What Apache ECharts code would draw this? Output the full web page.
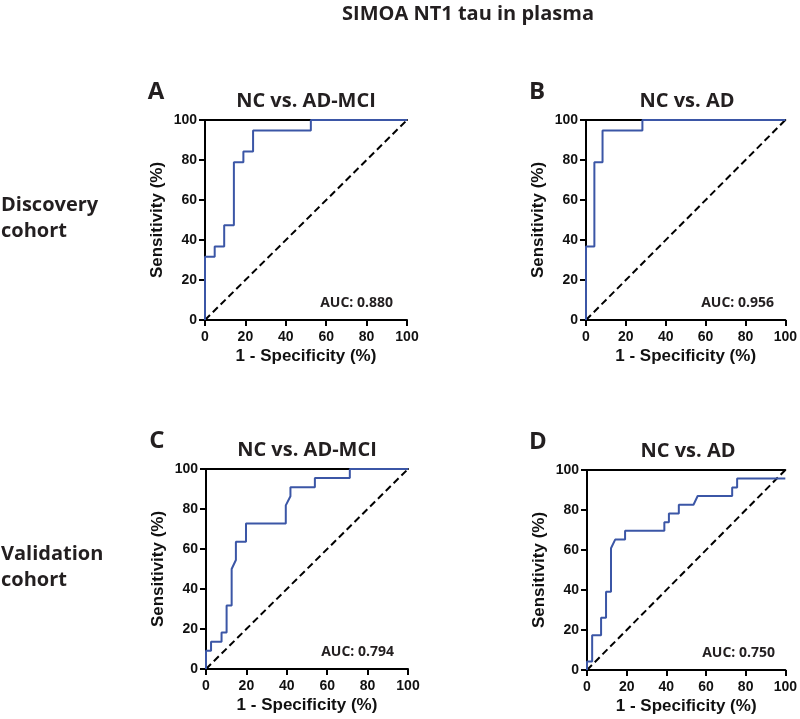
<!DOCTYPE html>
<html>
<head>
<meta charset="utf-8">
<script src="https://cdn.jsdelivr.net/npm/echarts@6/dist/echarts.min.js"></script>
<style>
  html, body { margin: 0; padding: 0; background: #fff; }
  #myCharts { width: 800px; height: 719px; }
</style>
</head>
<body>
<div id="myCharts"></div>
<script>
  // ROC steps, x = 1 - specificity (%), y = sensitivity (%)
  const fprA = [0, 0, 4.8, 4.8, 9.5, 9.5, 14.3, 14.3, 19.0, 19.0, 23.8, 23.8, 52.4, 52.4, 100];
  const tprA = [0, 31.6, 31.6, 36.8, 36.8, 47.4, 47.4, 78.9, 78.9, 84.2, 84.2, 94.7, 94.7, 100, 100];

  const fprB = [0, 0, 4.2, 4.2, 8.3, 8.3, 28.3, 28.3, 100];
  const tprB = [0, 36.8, 36.8, 78.9, 78.9, 94.7, 94.7, 100, 100];

  const fprC = [0, 0, 2.5, 2.5, 7.7, 7.7, 10.2, 10.2, 12.7, 12.7, 14.8, 14.8, 19.8, 19.8, 39.5, 39.5, 41.8, 41.8, 53.9, 53.9, 71.2, 71.2, 100];
  const tprC = [0, 9.1, 9.1, 13.6, 13.6, 18.2, 18.2, 31.8, 31.8, 50.0, 54.5, 63.6, 63.6, 72.7, 72.7, 81.8, 86.4, 90.9, 90.9, 95.5, 95.5, 100, 100];

  const fprD = [0, 0, 2.6, 2.6, 7.1, 7.1, 9.6, 9.6, 12.1, 12.1, 14.2, 19.2, 19.2, 39.0, 39.0, 41.3, 41.3, 46.3, 46.3, 53.7, 55.8, 73.2, 73.2, 75.7, 75.7, 100];
  const tprD = [0, 4.3, 4.3, 17.4, 17.4, 26.1, 26.1, 39.1, 39.1, 60.9, 65.2, 65.2, 69.6, 69.6, 73.9, 73.9, 78.3, 78.3, 82.6, 82.6, 87.0, 87.0, 91.3, 91.3, 95.7, 95.7];

  const panelTitles = ['NC vs. AD-MCI', 'NC vs. AD', 'NC vs. AD-MCI', 'NC vs. AD'];
  const panelLetters = ['A', 'B', 'C', 'D'];
  const aucLabels = ['AUC: 0.880', 'AUC: 0.956', 'AUC: 0.794', 'AUC: 0.750'];
  const chanceX = [0, 100];
  const chanceY = [0, 100];

  const fprs = [fprA, fprB, fprC, fprD];
  const tprs = [tprA, tprB, tprC, tprD];

  const grids = [
    {left: 205, top: 120, width: 202, height: 200},
    {left: 586, top: 120, width: 202, height: 200},
    {left: 206, top: 469, width: 202, height: 200},
    {left: 587, top: 470, width: 202, height: 200}
  ];

  const titleFont = '"Open Sans", sans-serif';
  const axisFont = '"Liberation Sans", Arial, sans-serif';
  const blue = '#3b56a6';

  function zip(xs, ys) {
    return xs.map((x, i) => [x, ys[i]]);
  }

  const xAxes = [], yAxes = [], series = [], graphics = [];
  grids.forEach((g, i) => {
    xAxes.push({
      gridIndex: i, type: 'value', min: 0, max: 100, interval: 20,
      name: '1 - Specificity (%)', nameLocation: 'middle', nameGap: 28,
      nameTextStyle: {fontFamily: axisFont, fontWeight: 'bold', fontSize: 17, color: '#111'},
      axisLine: {lineStyle: {color: '#000', width: 2}},
      axisTick: {length: 6, lineStyle: {color: '#000', width: 2}},
      axisLabel: {fontFamily: axisFont, fontWeight: 'bold', fontSize: 14, color: '#111', margin: 10},
      splitLine: {show: false}
    });
    // top border of the frame
    xAxes.push({
      gridIndex: i, type: 'value', min: 0, max: 100, position: 'top',
      axisLine: {lineStyle: {color: '#000', width: 2}},
      axisTick: {show: false}, axisLabel: {show: false}, splitLine: {show: false}
    });
    yAxes.push({
      gridIndex: i, type: 'value', min: 0, max: 100, interval: 20,
      name: 'Sensitivity (%)', nameLocation: 'middle', nameGap: 39,
      nameTextStyle: {fontFamily: axisFont, fontWeight: 'bold', fontSize: 17, color: '#111'},
      axisLine: {lineStyle: {color: '#000', width: 2}},
      axisTick: {length: 6, lineStyle: {color: '#000', width: 2}},
      axisLabel: {fontFamily: axisFont, fontWeight: 'bold', fontSize: 14, color: '#111', margin: 8},
      splitLine: {show: false}
    });
    series.push({
      type: 'line', xAxisIndex: i * 2, yAxisIndex: i,
      data: zip(chanceX, chanceY), symbol: 'none', animation: false, silent: true,
      lineStyle: {color: '#000', width: 2, type: [7, 4]}, z: 3
    });
    series.push({
      type: 'line', xAxisIndex: i * 2, yAxisIndex: i,
      data: zip(fprs[i], tprs[i]), symbol: 'none', animation: false, clip: false,
      lineStyle: {color: blue, width: 2}, z: 4
    });

    graphics.push({
      type: 'text', x: g.left + g.width / 2, y: g.top - 19,
      style: {text: panelTitles[i], fontFamily: titleFont, fontWeight: 'bold', fontSize: 20,
        fill: '#231f20', textAlign: 'center', textVerticalAlign: 'middle'}
    });
    graphics.push({
      type: 'text', x: g.left - 49, y: g.top - 28,
      style: {text: panelLetters[i], fontFamily: titleFont, fontWeight: 'bold', fontSize: 24,
        fill: '#231f20', textAlign: 'center', textVerticalAlign: 'middle'}
    });
    graphics.push({
      type: 'text', x: g.left + g.width - 14, y: g.top + g.height - 17,
      style: {text: aucLabels[i], fontFamily: titleFont, fontWeight: 'bold', fontSize: 14,
        fill: '#231f20', textAlign: 'right', textVerticalAlign: 'middle'}
    });
  });

  graphics.push({
    type: 'text', x: 468, y: 14,
    style: {text: 'SIMOA NT1 tau in plasma', fontFamily: titleFont, fontWeight: 'bold', fontSize: 20,
      fill: '#231f20', textAlign: 'center', textVerticalAlign: 'middle'}
  });
  graphics.push({
    type: 'text', x: 1, y: 218,
    style: {text: 'Discovery\ncohort', fontFamily: titleFont, fontWeight: 'bold', fontSize: 20,
      lineHeight: 26, fill: '#231f20', textAlign: 'left', textVerticalAlign: 'middle'}
  });
  graphics.push({
    type: 'text', x: 1, y: 567,
    style: {text: 'Validation\ncohort', fontFamily: titleFont, fontWeight: 'bold', fontSize: 20,
      lineHeight: 26, fill: '#231f20', textAlign: 'left', textVerticalAlign: 'middle'}
  });

  const myCharts = echarts.init(document.getElementById('myCharts'));
  myCharts.setOption({
    animation: false,
    grid: grids,
    xAxis: xAxes,
    yAxis: yAxes,
    series: series,
    graphic: graphics
  });
</script>
</body>
</html>
